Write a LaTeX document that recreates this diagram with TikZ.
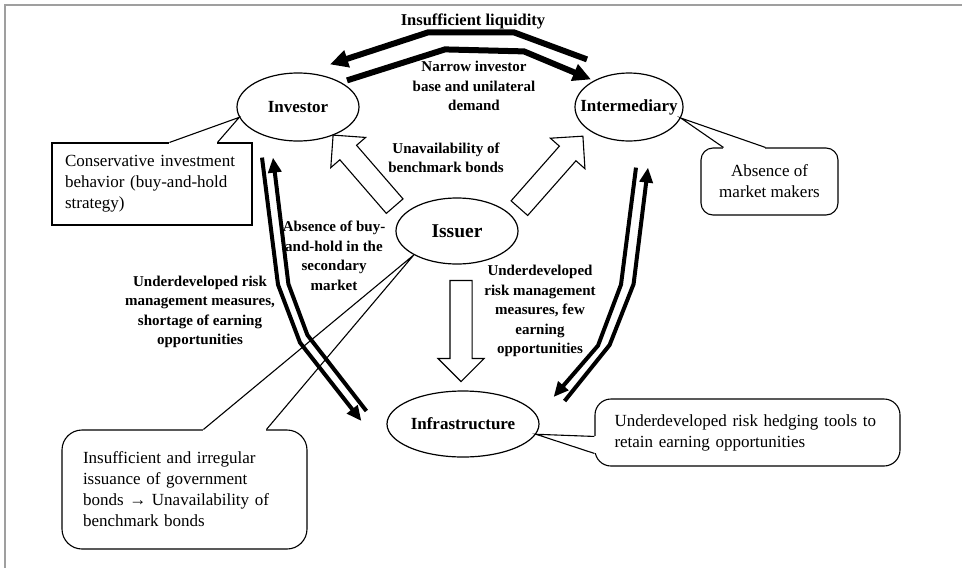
\documentclass[tikz,border=0pt]{standalone}
\usepackage{fontspec}
\setmainfont{Liberation Serif}
\usetikzlibrary{
arrows.meta,
positioning,
shapes.geometric,
shapes.arrows,
calc
}

\begin{document}
\begin{tikzpicture}[
x=1pt,y=-1pt,
actor/.style={
draw,
ellipse,
line width=1.2pt,
inner sep=0pt,
font=\fontsize{17}{20}\selectfont\bfseries
},
note/.style={
draw,
fill=white,
line width=1.1pt,
inner sep=0pt,
align=left,
font=\fontsize{17}{21}\selectfont
},
tag/.style={
align=center,
font=\fontsize{15}{19.5}\selectfont\bfseries
},
flow/.style={line width=6pt,-{Triangle[length=18pt,width=17pt]}},
link/.style={line width=4pt,line join=round,-{Triangle[length=15pt,width=13pt]}},
hollow/.style={
draw,
fill=white,
line width=1.1pt,
single arrow,
single arrow head extend=12pt,
inner xsep=0pt,
inner ysep=10.5pt,
minimum width=0pt,
sloped,
allow upside down
},
tail/.style={line width=1.1pt}
]

\path[use as bounding box,fill=white] (0,0) rectangle (962,568);
\draw[gray!75,line width=1.5pt] (5,568) -- (5,5) -- (962,5);

% market actors
\node[actor,minimum width=122pt,minimum height=68pt] (investor) at (298,107) {Investor};
\node[actor,minimum width=108pt,minimum height=68pt] (intermediary) at (629,107) {\makebox[0pt]{Intermediary}};
\node[actor,minimum width=122pt,minimum height=66pt,font=\fontsize{19.5}{22}\selectfont\bfseries] (issuer) at (457,231) {Issuer};
\node[actor,minimum width=152pt,minimum height=66pt] (infrastructure) at (463,424) {Infrastructure};

% comment boxes
\node[note,minimum width=200pt,minimum height=82pt,text width=174pt] (behavior) at (152,184) {
Conservative investment\\
behavior (buy-and-hold\\
strategy)
};

\node[note,rounded corners=12pt,minimum width=137pt,minimum height=67pt,align=center] (makers) at (769.5,181.5) {
Absence of\\
market makers
};

\node[note,rounded corners=16pt,minimum width=305pt,minimum height=67pt,text width=266pt] (hedging) at (747.5,432.5) {
Underdeveloped risk hedging tools to\\
retain earning opportunities
};

\node[note,rounded corners=20pt,minimum width=245pt,minimum height=119pt,text width=203pt] (issuance) at (184.5,489.5) {
Insufficient and irregular\\
issuance of government\\
bonds → Unavailability of\\
benchmark bonds
};

% callout pointers
\draw[white,line width=3pt] ($(behavior.north west)+(118,0)$) -- ($(behavior.north west)+(166,0)$);
\draw[tail] ($(behavior.north west)+(118,0)$) -- (investor.190) -- ($(behavior.north west)+(166,0)$);

\draw[white,line width=3pt] ($(makers.north west)+(23,0)$) -- ($(makers.north west)+(65,0)$);
\draw[tail] ($(makers.north west)+(23,0)$) -- (intermediary.-12) -- ($(makers.north west)+(65,0)$);

\draw[white,line width=3pt] ($(hedging.north west)+(0,38)$) -- ($(hedging.north west)+(0,55)$);
\draw[tail] ($(hedging.north west)+(0,38)$) -- (infrastructure.-8) -- ($(hedging.north west)+(0,55)$);

\draw[white,line width=3pt] ($(issuance.north west)+(142,0)$) -- ($(issuance.north west)+(205,0)$);
\draw[tail] ($(issuance.north west)+(142,0)$) -- (issuer.209) -- ($(issuance.north west)+(205,0)$);

% relation labels
\node[tag,font=\fontsize{16.5}{19.5}\selectfont\bfseries] (liquidity) at (473,21) {Insufficient liquidity};
\node[tag] (narrow) at (474,86) {Narrow investor\\base and unilateral\\demand};
\node[tag] (benchmark) at (446,158) {Unavailability of\\benchmark bonds};
\node[tag] (buyhold) at (334,256) {Absence of buy-\\and-hold in the\\secondary\\market};
\node[tag] (riskleft) at (200,312) {Underdeveloped risk\\management measures,\\shortage of earning\\opportunities};
\node[tag] (riskright) at (540,311) {Underdeveloped\\risk management\\measures, few\\earning\\opportunities};

% issuer block arrows
\path ($(issuer)+(-59,-21)$) -- node[hollow,minimum height=94pt] (toinv) {} ($(investor.south)+(39,-2)$);
\path ($(issuer)+(59,-19)$) -- node[hollow,minimum height=96pt] (tomid) {} ($(intermediary.south)+(-50,-1)$);
\path ($(issuer.south)+(4,11)$) -- node[hollow,minimum height=101pt] (toinfra) {} ($(infrastructure.north)+(-2,-15)$);

% top arrows
\draw[flow] ($(intermediary.north)+(-42,-13)$) -- ++(-73,-27) -- ++(-86,0) -- ($(investor.north)+(32,-8)$);
\draw[flow] ($(investor.north)+(49,8)$) -- ++(98,-31) -- ++(79,2) -- ($(intermediary.north)+(-38,7)$);

% investor <-> infrastructure
\draw[link] ($(investor.south)+(-36,16)$) -- ++(16,127) -- ++(22,58) -- ($(infrastructure.west)+(-25,-3)$);
\draw[link] ($(infrastructure.west)+(-20,-13)$) -- ++(-59,-76) -- ++(-19,-51) -- ($(investor.south)+(-25,16)$);

% intermediary <-> infrastructure
\draw[link] ($(intermediary.south)+(7,26)$) -- ++(-15,117) -- ++(-23,61) -- ($(infrastructure.east)+(14,-27)$);
\draw[link] ($(infrastructure.east)+(25,-23)$) -- ++(45,-56) -- ++(24,-61) -- ($(intermediary.south)+(19,26)$);

\end{tikzpicture}
\end{document}
